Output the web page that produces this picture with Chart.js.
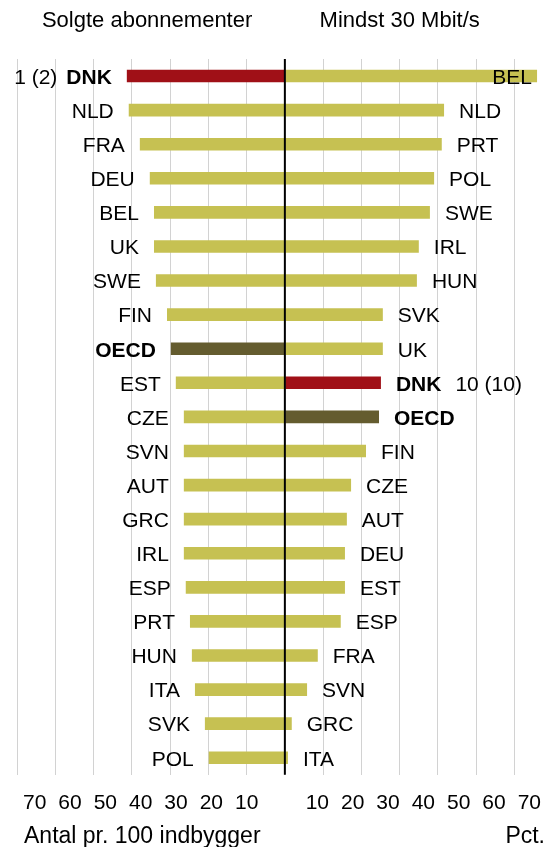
<!DOCTYPE html>
<html>
<head>
<meta charset="utf-8">
<script src="https://cdn.jsdelivr.net/npm/chart.js@4"></script>
<style>
  body { margin: 0; padding: 0; background: white; }
  #wrap { width: 547px; height: 847px; }
</style>
</head>
<body>
<div id="wrap"><canvas id="myChart" width="547" height="847"></canvas></div>
<script>
// Venstre side: solgte abonnementer, antal pr. 100 indbyggere
const landeVenstre = ["DNK", "NLD", "FRA", "DEU", "BEL", "UK", "SWE", "FIN", "OECD", "EST", "CZE",
  "SVN", "AUT", "GRC", "IRL", "ESP", "PRT", "HUN", "ITA", "SVK", "POL"];
const abonnementer = [41.3, 40.8, 37.9, 35.3, 34.2, 34.2, 33.7, 30.8, 29.8, 28.5, 26.4,
  26.4, 26.4, 26.4, 26.4, 25.9, 24.8, 24.3, 23.5, 20.9, 19.9];

// Hoejre side: andel med mindst 30 Mbit/s, pct.
const landeHoejre = ["BEL", "NLD", "PRT", "POL", "SWE", "IRL", "HUN", "SVK", "UK", "DNK", "OECD",
  "FIN", "CZE", "AUT", "DEU", "EST", "ESP", "FRA", "SVN", "GRC", "ITA"];
const mindst30 = [65.9, 41.6, 41.0, 39.0, 37.9, 35.0, 34.5, 25.6, 25.6, 25.1, 24.6,
  21.2, 17.3, 16.2, 15.7, 15.7, 14.6, 8.6, 5.8, 1.8, 0.8];

const tickLabels = ["70", "60", "50", "40", "30", "20", "10", "", "10", "20", "30", "40", "50", "60", "70"];
const rangVenstre = "1 (2)";
const rangHoejre = "10 (10)";

const FONT = "'Liberation Sans', Arial, sans-serif";

function farve(land) {
  if (land === "DNK") return "#a01017";
  if (land === "OECD") return "#645c2f";
  return "#c6c152";
}

const labelsPlugin = {
  id: "labelsPlugin",
  afterDatasetsDraw(chart) {
    const ctx = chart.ctx;
    const area = chart.chartArea;
    const x = chart.scales.x;
    ctx.save();

    // nul-linje oven paa soejlerne
    const x0 = x.getPixelForValue(0);
    ctx.strokeStyle = "#000";
    ctx.lineWidth = 2;
    ctx.beginPath();
    ctx.moveTo(x0, area.top);
    ctx.lineTo(x0, area.bottom);
    ctx.stroke();

    ctx.fillStyle = "#000";
    ctx.textBaseline = "middle";
    const lister = [landeVenstre, landeHoejre];
    lister.forEach((lande, i) => {
      const meta = chart.getDatasetMeta(i);
      meta.data.forEach((bar, j) => {
        const land = lande[j];
        const fed = land === "DNK" || land === "OECD";
        ctx.font = (fed ? "bold " : "") + "21px " + FONT;
        const w = ctx.measureText(land).width;
        const y = bar.y + 2;
        if (i === 0) {
          const tx = bar.x - 15;
          ctx.textAlign = "right";
          ctx.fillText(land, tx, y);
          if (land === "DNK") {
            ctx.font = "21px " + FONT;
            ctx.fillText(rangVenstre, tx - w - 9, y);
          }
        } else {
          let tx = bar.x + 15;
          if (tx + w > area.right - 2) {
            ctx.textAlign = "right";
            ctx.fillText(land, Math.min(bar.x, area.right) - 5, y);
          } else {
            ctx.textAlign = "left";
            ctx.fillText(land, tx, y);
            if (land === "DNK") {
              ctx.font = "21px " + FONT;
              ctx.fillText(rangHoejre, tx + w + 14, y);
            }
          }
        }
      });
    });

    // overskrifter og aksetitler
    ctx.font = "22px " + FONT;
    ctx.textAlign = "center";
    ctx.fillText("Solgte abonnementer", x.getPixelForValue(-36), 21);
    ctx.fillText("Mindst 30 Mbit/s", x.getPixelForValue(30), 21);
    ctx.font = "23px " + FONT;
    ctx.textAlign = "left";
    ctx.fillText("Antal pr. 100 indbygger", area.left + 7, 837);
    ctx.textAlign = "right";
    ctx.fillText("Pct.", area.right - 2, 837);
    ctx.restore();
  },
};

const rows = landeVenstre.map((_, i) => String(i + 1));

function noPadding(scale) {
  scale.paddingLeft = 0;
  scale.paddingRight = 0;
}

const config = {
  type: "bar",
  data: {
    labels: rows,
    datasets: [
      {
        data: abonnementer.map((v) => -v),
        backgroundColor: landeVenstre.map(farve),
        borderWidth: 0,
      },
      {
        data: mindst30,
        backgroundColor: landeHoejre.map(farve),
        borderWidth: 0,
      },
    ],
  },
  options: {
    indexAxis: "y",
    responsive: false,
    animation: false,
    datasets: {
      bar: {
        grouped: false,
        barPercentage: 0.37,
        categoryPercentage: 1,
      },
    },
    layout: {
      padding: { top: 59, left: 17, right: 0, bottom: 15 },
    },
    scales: {
      y: { display: false },
      x: {
        type: "linear",
        min: -70,
        max: 68.5,
        border: { display: false },
        grid: { color: "#d2d2d2", lineWidth: 1, drawTicks: false },
        ticks: { display: false, stepSize: 10, includeBounds: false },
        afterFit: noPadding,
      },
      x2: {
        type: "category",
        position: "bottom",
        labels: tickLabels,
        offset: true,
        border: { display: false },
        grid: { display: false, drawTicks: false },
        ticks: {
          color: "#000",
          padding: 16,
          maxRotation: 0,
          autoSkip: false,
          font: { size: 21, family: FONT },
        },
        afterFit: noPadding,
      },
    },
    plugins: {
      legend: { display: false },
      tooltip: { enabled: false },
    },
  },
  plugins: [labelsPlugin],
};

new Chart(document.getElementById("myChart").getContext("2d"), config);
</script>
</body>
</html>
